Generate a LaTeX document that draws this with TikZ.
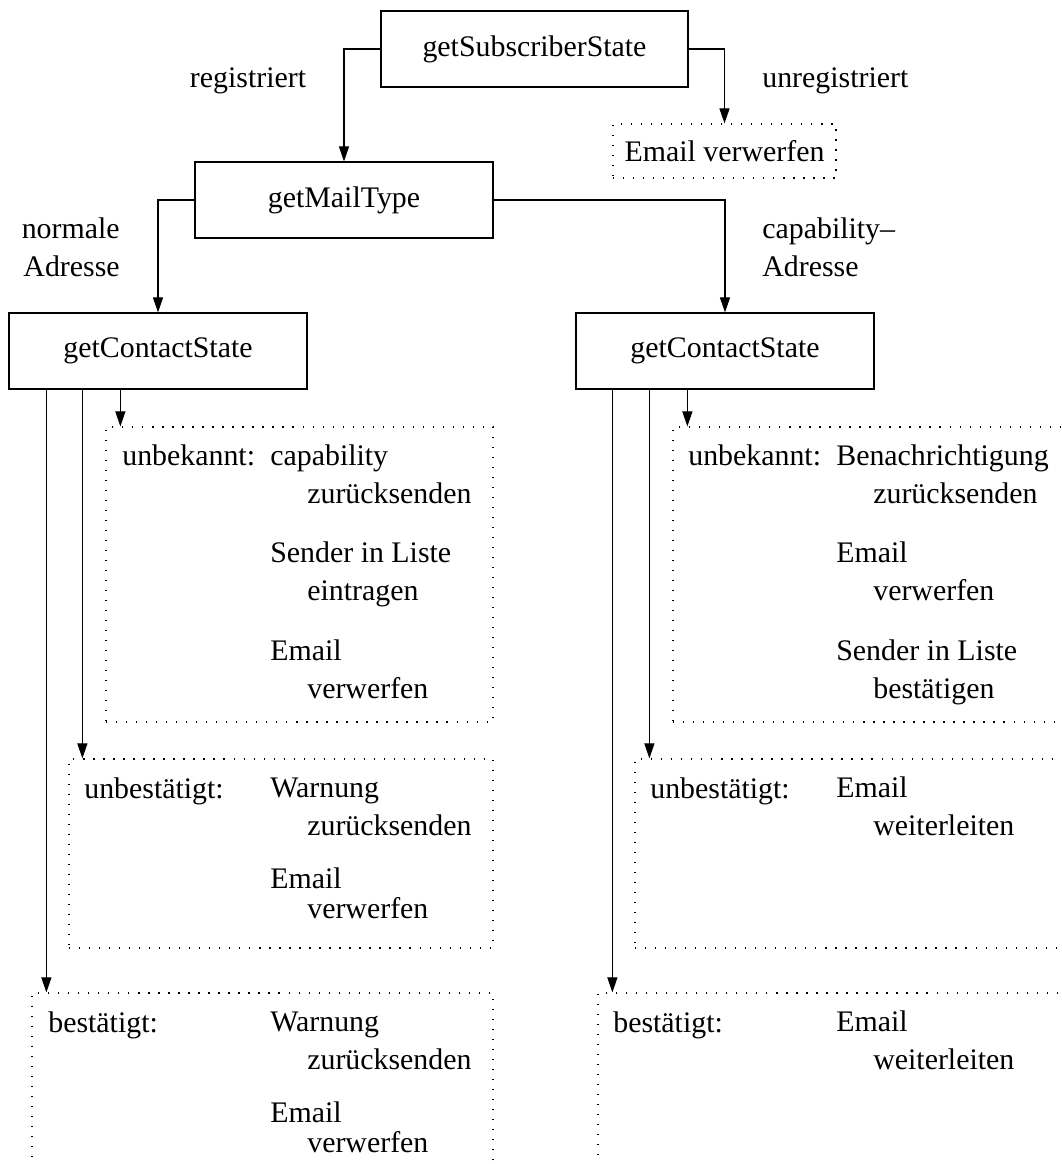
\documentclass[tikz,border=0pt]{standalone}
\usepackage{fontspec}
\setmainfont{Liberation Serif}
\usepackage{tikz}
\usetikzlibrary{arrows.meta,fit}

\tikzset{
  box/.style={draw, line width=0.7pt, minimum width=5.96cm, minimum height=1.52cm},
  opt/.style={draw, line width=0.7pt, dash pattern=on 0.7pt off 5pt, inner sep=0pt},
  arr/.style={-{Triangle[length=8.5pt,width=5.7pt]}, line width=0.6pt},
  txt/.style={anchor=base west, align=left, inner sep=0pt},
}
% two-line action, anchored at the baseline of its second line
\newcommand{\actn}[2]{#1\\\hspace*{0.74cm}#2}

\begin{document}
\begin{tikzpicture}[x=0.02cm, y=-0.02cm, font=\fontsize{17pt}{21.5pt}\selectfont]
        \useasboundingbox (0,0) rectangle (1062,1164);
        \clip (0,0) rectangle (1062,1164);

        % Query boxes
        \node[box, minimum width=6.14cm] (sub) at (534.5,49) {getSubscriberState};
        \node[box] (mail) at (344,200) {getMailType};
        \node[box] (lcs) at (158,351) {getContactState};
        \node[box] (rcs) at (725,351) {getContactState};
        \node[opt, minimum width=4.46cm, minimum height=1.08cm] (drop) at (724.5,151) {Email verwerfen};

        % Top branches
        \draw[arr] (sub.west) -| (mail.north);
        \draw[arr] (sub.east) -| (drop.north);
        \node[anchor=base, inner sep=0pt] (lreg) at (248,87) {registriert};
        \node[txt] (lunreg) at (762,87) {unregistriert};

        \draw[arr] (mail.west) -| (lcs.north);
        \draw[arr] (mail.east) -| (rcs.north);
        \node[anchor=base east, align=right, inner sep=0pt] (lnorm) at (120,276) {normale\\Adresse};
        \node[txt] (lcap) at (762,276) {capability--\\Adresse};

        % Left contact states
        \node[opt, fit={(106,427) (493,722)}] (lunk) {};
        \node[opt, fit={(69,759) (493,948)}] (lunb) {};
        \node[opt, fit={(32,993) (493,1200)}] (lbes) {};

        \node[txt] (lunk-l) at (122,465) {unbekannt:};
        \node[txt] (lunk-a) at (270,503) {\actn{capability}{zurücksenden}};
        \node[txt] (lunk-b) at (270,600) {\actn{Sender in Liste}{eintragen}};
        \node[txt] (lunk-c) at (270,698) {\actn{Email}{verwerfen}};

        \node[txt] (lunb-l) at (84,798) {unbestätigt:};
        \node[txt] (lunb-a) at (270,835) {\actn{Warnung}{zurücksenden}};
        \node[txt] (lunb-b) at (270,918) {Email\\[-4.5pt]\hspace*{0.74cm}verwerfen};

        \node[txt] (lbes-l) at (48,1032) {bestätigt:};
        \node[txt] (lbes-a) at (270,1069) {\actn{Warnung}{zurücksenden}};
        \node[txt] (lbes-b) at (270,1152) {Email\\[-4.5pt]\hspace*{0.74cm}verwerfen};

        % Right contact states
        \node[opt, fit={(673,427) (1100,722)}] (runk) {};
        \node[opt, fit={(635,759) (1100,948)}] (runb) {};
        \node[opt, fit={(598,993) (1100,1200)}] (rbes) {};

        \node[txt] (runk-l) at (688,465) {unbekannt:};
        \node[txt] (runk-a) at (836,503) {\actn{Benachrichtigung}{zurücksenden}};
        \node[txt] (runk-b) at (836,600) {\actn{Email}{verwerfen}};
        \node[txt] (runk-c) at (836,698) {\actn{Sender in Liste}{bestätigen}};

        \node[txt] (runb-l) at (650,798) {unbestätigt:};
        \node[txt] (runb-a) at (836,835) {\actn{Email}{weiterleiten}};

        \node[txt] (rbes-l) at (613,1032) {bestätigt:};
        \node[txt] (rbes-a) at (836,1069) {\actn{Email}{weiterleiten}};

        % Arrows into the state boxes
        \coordinate (lunk-in) at ([xshift=0.3cm]lunk.north west);
        \coordinate (lunb-in) at ([xshift=0.28cm]lunb.north west);
        \coordinate (lbes-in) at ([xshift=0.3cm]lbes.north west);
        \coordinate (runk-in) at ([xshift=0.3cm]runk.north west);
        \coordinate (runb-in) at ([xshift=0.3cm]runb.north west);
        \coordinate (rbes-in) at ([xshift=0.3cm]rbes.north west);

        \draw[arr] (lcs.south -| lunk-in) -- (lunk-in);
        \draw[arr] (lcs.south -| lunb-in) -- (lunb-in);
        \draw[arr] (lcs.south -| lbes-in) -- (lbes-in);
        \draw[arr] (rcs.south -| runk-in) -- (runk-in);
        \draw[arr] (rcs.south -| runb-in) -- (runb-in);
        \draw[arr] (rcs.south -| rbes-in) -- (rbes-in);

    \end{tikzpicture}
\end{document}
